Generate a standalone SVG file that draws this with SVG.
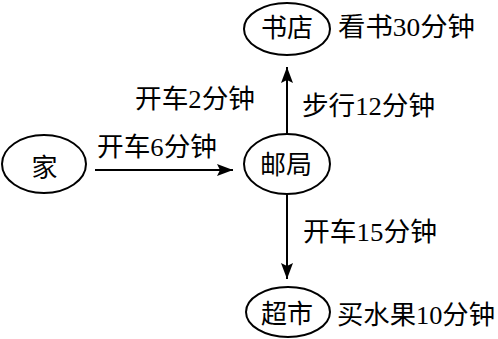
<svg xmlns="http://www.w3.org/2000/svg" width="498" height="339" viewBox="0 0 498 339">
<style>
.n{fill:none;stroke:#000;stroke-width:2}
.t{font-family:"Liberation Serif","Noto Sans CJK SC",serif;font-size:26px;fill:#000}
.c{stroke:#000;stroke-width:2;fill:none;marker-end:url(#ah)}
</style>
<defs>
<marker id="ah" markerUnits="userSpaceOnUse" viewBox="0 0 16 12" refX="16" refY="6" markerWidth="16" markerHeight="12" orient="auto">
<path d="M0,0 L16,6 L0,12 L3,6 Z" fill="#000"/>
</marker>
</defs>
<g id="connectors">
<line class="c" x1="95" y1="170" x2="233" y2="170"/>
<line class="c" x1="287" y1="134" x2="287" y2="67"/>
<line class="c" x1="287" y1="195" x2="287" y2="279"/>
</g>
<g id="bookstore">
<ellipse class="n" cx="287" cy="29" rx="43" ry="26"/>
<text class="t" x="287" y="37" text-anchor="middle">书店</text>
</g>
<g id="home">
<ellipse class="n" cx="44" cy="164" rx="42" ry="29"/>
<text class="t" x="44.5" y="177" text-anchor="middle">家</text>
</g>
<g id="postoffice">
<ellipse class="n" cx="287" cy="164" rx="43" ry="30"/>
<text class="t" x="286" y="174" text-anchor="middle">邮局</text>
</g>
<g id="supermarket">
<ellipse class="n" cx="288" cy="312" rx="42" ry="25"/>
<text class="t" x="287" y="323" text-anchor="middle">超市</text>
</g>
<g id="labels">
<text class="t" x="338" y="36" textLength="137" lengthAdjust="spacingAndGlyphs">看书30分钟</text>
<text class="t" x="97" y="156" textLength="120" lengthAdjust="spacingAndGlyphs">开车6分钟</text>
<text class="t" x="135" y="108" textLength="120" lengthAdjust="spacingAndGlyphs">开车2分钟</text>
<text class="t" x="302" y="115" textLength="133" lengthAdjust="spacingAndGlyphs">步行12分钟</text>
<text class="t" x="303" y="241" textLength="134" lengthAdjust="spacingAndGlyphs">开车15分钟</text>
<text class="t" x="337" y="324" textLength="158" lengthAdjust="spacingAndGlyphs">买水果10分钟</text>
</g>
</svg>
